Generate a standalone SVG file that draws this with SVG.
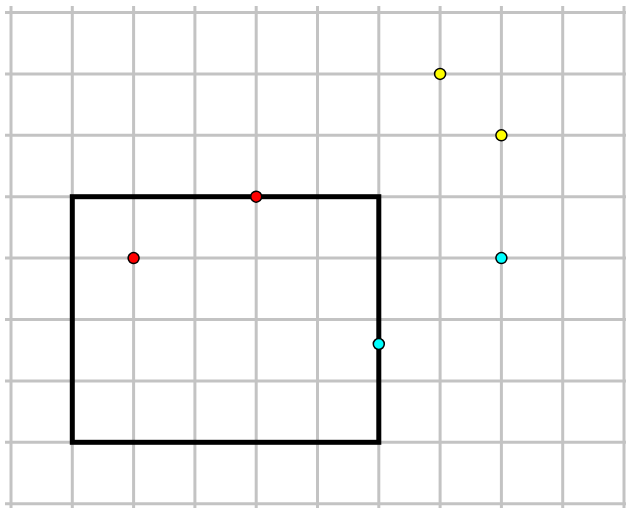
<svg xmlns="http://www.w3.org/2000/svg" width="626" height="508" viewBox="0 0 626 508">
<style>
.g line{stroke:#c3c3c3;stroke-width:3}
.pt{stroke:#000;stroke-width:1.5}
</style>
<rect width="626" height="508" fill="#fff"/>
<g class="g" id="grid">
<line x1="11" y1="6" x2="11" y2="508"/>
<line x1="72.3" y1="6" x2="72.3" y2="508"/>
<line x1="133.6" y1="6" x2="133.6" y2="508"/>
<line x1="194.9" y1="6" x2="194.9" y2="508"/>
<line x1="256.2" y1="6" x2="256.2" y2="508"/>
<line x1="317.5" y1="6" x2="317.5" y2="508"/>
<line x1="378.8" y1="6" x2="378.8" y2="508"/>
<line x1="440.1" y1="6" x2="440.1" y2="508"/>
<line x1="501.4" y1="6" x2="501.4" y2="508"/>
<line x1="562.7" y1="6" x2="562.7" y2="508"/>
<line x1="624" y1="6" x2="624" y2="508"/>
<line x1="5" y1="12.5" x2="626" y2="12.5"/>
<line x1="5" y1="73.9" x2="626" y2="73.9"/>
<line x1="5" y1="135.3" x2="626" y2="135.3"/>
<line x1="5" y1="196.7" x2="626" y2="196.7"/>
<line x1="5" y1="258.1" x2="626" y2="258.1"/>
<line x1="5" y1="319.5" x2="626" y2="319.5"/>
<line x1="5" y1="380.9" x2="626" y2="380.9"/>
<line x1="5" y1="442.3" x2="626" y2="442.3"/>
<line x1="5" y1="503.7" x2="626" y2="503.7"/>
</g>
<g id="rect">
<rect x="72.3" y="196.7" width="306.5" height="245.6" fill="none" stroke="#000" stroke-width="5"/>
</g>
<g id="points">
<circle class="pt" cx="133.6" cy="258.1" r="5.5" fill="#ff0000"/>
<circle class="pt" cx="256.2" cy="196.7" r="5.5" fill="#ff0000"/>
<circle class="pt" cx="378.8" cy="344" r="5.5" fill="#00ffff"/>
<circle class="pt" cx="501.4" cy="258.1" r="5.5" fill="#00ffff"/>
<circle class="pt" cx="440.1" cy="73.9" r="5.5" fill="#ffff00"/>
<circle class="pt" cx="501.4" cy="135.3" r="5.5" fill="#ffff00"/>
</g>
</svg>
